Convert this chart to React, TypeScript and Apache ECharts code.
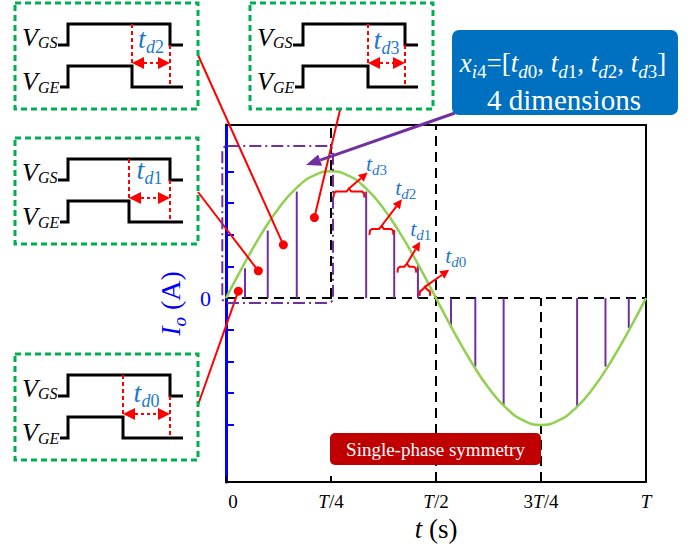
import React, { useEffect, useRef } from 'react';
import * as echarts from 'echarts';

const FONT = 'Liberation Serif, Times New Roman, serif';
const T_BLUE = '#1f78c8';
const RED = '#ff0000';
const PURPLE = '#7030a0';
const AXIS_BLUE = '#0000ff';

// ---------- data ----------
const yMin = -5.8;
const yMax = 5.46;

const xTickValues = [0, 0.25, 0.5, 0.75, 1];
const xTickLabels = ['0', 'T/4', 'T/2', '3T/4', 'T'];
const yTickValues = [-4, -3, -2, -1, 1, 2, 3, 4];
const yLabelValues = [0];

// output current Io over one period (t in units of T)
const curveT = [0, 0.0417, 0.0833, 0.125, 0.1667, 0.2083, 0.25, 0.2917, 0.3333, 0.375, 0.4167, 0.4583, 0.5,
  0.5417, 0.5833, 0.625, 0.6667, 0.7083, 0.75, 0.7917, 0.8333, 0.875, 0.9167, 0.9583, 1];
const curveI = [0, 1.04, 2.0, 2.83, 3.46, 3.86, 4.0, 3.86, 3.46, 2.83, 2.0, 1.04, 0,
  -1.04, -2.0, -2.83, -3.46, -3.86, -4.0, -3.86, -3.46, -2.83, -2.0, -1.04, 0];

// switching instants (purple stems)
const stemT = [0.0453, 0.0994, 0.1685, 0.3337, 0.4005, 0.457, 0.5357, 0.5936, 0.661, 0.836, 0.9035, 0.959];
const stemI = [0.94, 2.13, 3.36, 3.36, 2.15, 1.07, -0.94, -2.16, -3.4, -3.4, -2.16, -0.94];

// dead-time braces
const braceStart = [0.2558, 0.3416, 0.4083, 0.4608];
const braceEnd = [0.3297, 0.3988, 0.4529, 0.4863];
const braceLevel = [3.36, 2.18, 0.99, 0.26];
const braceIndex = ['3', '2', '1', '0'];

// callout dots
const dotT = [0.0293, 0.077, 0.1366, 0.2105];
const dotI = [0.22, 0.86, 1.68, 2.54];

// inset waveform boxes
const insetIndex = ['2', '3', '1', '0'];

// ---------- layout (pixels) ----------
const insetLeft = [15, 250, 15, 15];
const insetTop = [3, 3, 138, 354];
const insetFall = [117, 118, 114, 108];
const insetLabelY = [35.5, 36.5, 31.5, 38];
const calloutAnchor = [[198, 405], [198, 192], [198, 55], [340, 110]];
const braceArrow = [[18.7, -16], [20.4, -26.7], [13.3, -22], [24.3, -17]];
const braceLabelOffset = [[-1.7, -8.7], [-6.7, -11.3], [-10, -13.7], [-4, -14]];

// ---------- helpers ----------
const mainTok = (size: number, italic: boolean, color: string, extra: any = {}) => ({
  fontSize: size, lineHeight: size, fontFamily: FONT, fontStyle: italic ? 'italic' : 'normal',
  fill: color, color, ...extra,
});
const subTok = (size: number, h: number, italic: boolean, color: string) => ({
  fontSize: size, height: h, lineHeight: h, verticalAlign: 'bottom', fontFamily: FONT,
  fontStyle: italic ? 'italic' : 'normal', fill: color, color,
});

function arrowHead(tx: number, ty: number, ux: number, uy: number, len: number, hw: number) {
  const bx = tx - ux * len;
  const by = ty - uy * len;
  return { base: [bx, by], pts: [[tx, ty], [bx - uy * hw, by + ux * hw], [bx + uy * hw, by - ux * hw]] };
}

function inset(i: number) {
  const fall = insetFall[i];
  const rich = {
    v: mainTok(26, true, '#000'),
    s: subTok(16, 15, true, '#000'),
    t: mainTok(28, true, T_BLUE),
    d: subTok(18, 11, true, T_BLUE),
    n: subTok(18, 11, false, T_BLUE),
  };
  const lh = arrowHead(fall, 60, -1, 0, 12, 6);
  const rh = arrowHead(155, 60, 1, 0, 12, 6);
  return {
    type: 'group', x: insetLeft[i], y: insetTop[i], z: 50,
    children: [
      { type: 'rect', z: 50, shape: { x: 0, y: 0, width: 183, height: 106 },
        style: { fill: 'none', stroke: '#00b050', lineWidth: 3, lineDash: [6, 4] } },
      { type: 'polyline', z: 50, shape: { points: [[43, 42], [53, 42], [53, 21], [155, 21], [155, 42], [168, 42]] },
        style: { stroke: '#000', lineWidth: 3, fill: 'none', lineJoin: 'miter' } },
      { type: 'polyline', z: 50, shape: { points: [[45, 84], [53, 84], [53, 63], [fall, 63], [fall, 84], [168, 84]] },
        style: { stroke: '#000', lineWidth: 3, fill: 'none', lineJoin: 'miter' } },
      { type: 'line', z: 51, shape: { x1: fall, y1: 21, x2: fall, y2: 63 },
        style: { stroke: RED, lineWidth: 2, lineDash: [4, 3] } },
      { type: 'line', z: 51, shape: { x1: 155, y1: 42, x2: 155, y2: 84 },
        style: { stroke: RED, lineWidth: 2, lineDash: [4, 3] } },
      { type: 'line', z: 51, shape: { x1: lh.base[0], y1: 60, x2: rh.base[0], y2: 60 },
        style: { stroke: RED, lineWidth: 2, lineDash: [3, 3] } },
      { type: 'polygon', z: 51, shape: { points: lh.pts }, style: { fill: RED } },
      { type: 'polygon', z: 51, shape: { points: rh.pts }, style: { fill: RED } },
      { type: 'text', z: 52, x: 7, y: 34,
        style: { text: '{v|V}{s|GS}', rich, align: 'left', verticalAlign: 'middle' } },
      { type: 'text', z: 52, x: 7, y: 78.5,
        style: { text: '{v|V}{s|GE}', rich, align: 'left', verticalAlign: 'middle' } },
      { type: 'text', z: 52, x: (fall + 155) / 2, y: insetLabelY[i],
        style: { text: `{t|t}{d|d}{n|${insetIndex[i]}}`, rich, align: 'center', verticalAlign: 'middle' } },
    ],
  };
}

function xLabel(v: number) {
  const idx = xTickValues.findIndex((t) => Math.abs(t - v) < 1e-6);
  if (idx < 0) return '';
  const s = xTickLabels[idx];
  if (s === '0') return '{z|0}';
  let out = '';
  for (const ch of s) out += ch === 'T' ? '{i|T}' : `{n|${ch}}`;
  return out;
}

export default function App() {
  const ref = useRef<HTMLDivElement>(null);
  useEffect(() => {
    document.body.style.margin = '0';
    const chart = echarts.init(ref.current!, null, { renderer: 'svg' });

    // purple arrow from info box
    const ax0 = 455, ay0 = 113, ax1 = 306, ay1 = 165;
    const alen = Math.hypot(ax1 - ax0, ay1 - ay0);
    const pa = arrowHead(ax1, ay1, (ax1 - ax0) / alen, (ay1 - ay0) / alen, 15, 6);

    const boxRich = {
      a: mainTok(27, true, '#fff'),
      si: subTok(19, 11, true, '#fff'),
      sn: subTok(19, 11, false, '#fff'),
      b: mainTok(27, false, '#fff'),
    };
    const line1 = '{a|x}{si|i}{sn|4}{b|=[}' +
      ['0', '1', '2', '3'].map((k) => `{a|t}{si|d}{sn|${k}}`).join('{b|, }') + '{b|]}';

    const option: any = {
      animation: false,
      backgroundColor: '#fff',
      textStyle: { fontFamily: FONT },
      grid: { left: 226, right: 44, top: 125, bottom: 66, containLabel: false, outerBoundsMode: 'none' },
      xAxis: [
        {
          type: 'value', min: 0, max: 1, interval: 0.25, position: 'bottom',
          axisLine: { show: true, onZero: false, lineStyle: { color: '#000', width: 2 } },
          axisTick: { show: true, inside: true, length: 6, lineStyle: { color: '#000', width: 2 } },
          splitLine: { show: false },
          axisLabel: {
            margin: 10, formatter: xLabel,
            rich: {
              n: { fontSize: 19, fontFamily: FONT, color: '#000' },
              i: { fontSize: 19, fontFamily: FONT, fontStyle: 'italic', color: '#000' },
              z: { fontSize: 19, fontFamily: FONT, color: '#000', padding: [0, 0, 0, 14] },
            },
          },
          name: '{i|t}{n| (s)}', nameLocation: 'middle', nameGap: 33,
          nameTextStyle: {
            rich: {
              i: { fontSize: 27, fontFamily: FONT, fontStyle: 'italic', color: '#000' },
              n: { fontSize: 27, fontFamily: FONT, color: '#000' },
            },
          },
        },
        {
          type: 'value', min: 0, max: 1, position: 'top',
          axisLine: { show: true, onZero: false, lineStyle: { color: '#000', width: 2 } },
          axisTick: { show: false }, axisLabel: { show: false }, splitLine: { show: false },
        },
      ],
      yAxis: [
        {
          type: 'value', min: yMin, max: yMax, position: 'left',
          axisLine: { show: true, onZero: false, lineStyle: { color: AXIS_BLUE, width: 3 } },
          axisTick: { show: true, inside: true, length: 8, customValues: yTickValues,
            lineStyle: { color: AXIS_BLUE, width: 2 } },
          axisLabel: { show: true, customValues: yLabelValues, color: AXIS_BLUE, fontSize: 22,
            fontFamily: FONT, margin: 15 },
          splitLine: { show: false },
          name: '{i|I}{s|o}{n| (A)}', nameLocation: 'middle', nameRotate: 90, nameGap: 36,
          nameTextStyle: {
            rich: {
              i: mainTok(28, true, AXIS_BLUE),
              s: subTok(19, 10, true, AXIS_BLUE),
              n: mainTok(28, false, AXIS_BLUE),
            },
          },
        },
        {
          type: 'value', min: yMin, max: yMax, position: 'right',
          axisLine: { show: true, onZero: false, lineStyle: { color: '#000', width: 2 } },
          axisTick: { show: false }, axisLabel: { show: false }, splitLine: { show: false },
        },
      ],
      series: [
        {
          type: 'line', name: 'Io', smooth: true, showSymbol: false, symbol: 'none', z: 3,
          data: curveT.map((t, i) => [t, curveI[i]]),
          lineStyle: { color: '#92d050', width: 2.5 },
          markLine: {
            silent: true, symbol: 'none', label: { show: false }, z: 2,
            lineStyle: { color: '#000', type: [10, 6], width: 2 },
            data: [
              { yAxis: 0 },
              [{ coord: [0.25, 0] }, { coord: [0.25, yMax] }],
              [{ coord: [0.5, yMin] }, { coord: [0.5, yMax] }],
              [{ coord: [0.75, yMin] }, { coord: [0.75, 0] }],
            ],
          },
        },
        {
          type: 'custom', name: 'stems', z: 2, clip: false,
          data: stemT.map((t, i) => [t, stemI[i]]),
          encode: { x: 0, y: 1 },
          renderItem: (params: any, api: any) => {
            const p0 = api.coord([api.value(0), 0]);
            const p1 = api.coord([api.value(0), api.value(1)]);
            return { type: 'line', shape: { x1: p0[0], y1: p0[1], x2: p1[0], y2: p1[1] },
              style: { stroke: PURPLE, lineWidth: 2 } };
          },
        },
        {
          type: 'custom', name: 'braces', z: 6, clip: false,
          data: braceStart.map((s, i) => [s, braceEnd[i], braceLevel[i]]),
          encode: { x: [0, 1], y: 2 },
          renderItem: (params: any, api: any) => {
            const i = params.dataIndex;
            const a = api.coord([api.value(0), api.value(2)]);
            const b = api.coord([api.value(1), api.value(2)]);
            const y = a[1];
            const mid = (a[0] + b[0]) / 2;
            const sx = mid, sy = y - 3;
            const d = braceArrow[i];
            const tx = sx + d[0], ty = sy + d[1];
            const len = Math.hypot(d[0], d[1]);
            const h = arrowHead(tx, ty, d[0] / len, d[1] / len, 9, 4.5);
            const off = braceLabelOffset[i];
            return {
              type: 'group',
              children: [
                { type: 'polyline', shape: { points: [
                  [a[0], y + 6], [a[0] + 0.5, y + 1.5], [a[0] + 2.5, y], [mid - 2.5, y], [mid, sy],
                  [mid + 2.5, y], [b[0] - 2.5, y], [b[0] - 0.5, y + 1.5], [b[0], y + 6]] },
                  style: { stroke: RED, lineWidth: 2, fill: 'none' } },
                { type: 'line', shape: { x1: sx, y1: sy, x2: h.base[0], y2: h.base[1] },
                  style: { stroke: RED, lineWidth: 2 } },
                { type: 'polygon', shape: { points: h.pts }, style: { fill: RED } },
                { type: 'text', x: tx + off[0], y: ty + off[1],
                  style: {
                    text: `{t|t}{d|d}{n|${braceIndex[i]}}`, align: 'left', verticalAlign: 'middle',
                    rich: {
                      t: mainTok(22, true, T_BLUE),
                      d: subTok(15, 9, true, T_BLUE),
                      n: subTok(15, 9, false, T_BLUE),
                    },
                  } },
              ],
            };
          },
        },
        {
          type: 'custom', name: 'callouts', z: 10, clip: false,
          data: dotT.map((t, i) => [t, dotI[i]]),
          encode: { x: 0, y: 1 },
          renderItem: (params: any, api: any) => {
            const i = params.dataIndex;
            const p = api.coord([api.value(0), api.value(1)]);
            const an = calloutAnchor[i];
            return {
              type: 'group',
              children: [
                { type: 'line', shape: { x1: an[0], y1: an[1], x2: p[0], y2: p[1] },
                  style: { stroke: RED, lineWidth: 2 } },
                { type: 'circle', shape: { cx: p[0], cy: p[1], r: 4.5 }, style: { fill: RED } },
              ],
            };
          },
        },
      ],
      graphic: [
        ...[0, 1, 2, 3].map((i) => inset(i)),
        { type: 'rect', z: 40, shape: { x: 222.3, y: 146, width: 110.7, height: 157, r: 5 },
          style: { fill: 'none', stroke: PURPLE, lineWidth: 2, lineDash: [12, 4, 2, 4] } },
        { type: 'line', z: 55, shape: { x1: ax0, y1: ay0, x2: pa.base[0], y2: pa.base[1] },
          style: { stroke: PURPLE, lineWidth: 3 } },
        { type: 'polygon', z: 55, shape: { points: pa.pts }, style: { fill: PURPLE } },
        { type: 'rect', z: 60, shape: { x: 452, y: 30, width: 226, height: 85, r: 7 },
          style: { fill: '#0070c0' } },
        { type: 'text', z: 61, x: 563, y: 63,
          style: { text: line1, rich: boxRich, align: 'center', verticalAlign: 'middle' } },
        { type: 'text', z: 61, x: 564, y: 100,
          style: { text: '4 dimensions', fontSize: 29, fontFamily: FONT, fill: '#fff',
            align: 'center', verticalAlign: 'middle' } },
        { type: 'rect', z: 60, shape: { x: 330, y: 433, width: 211, height: 32, r: 5 },
          style: { fill: '#c00000' } },
        { type: 'text', z: 61, x: 435.5, y: 449,
          style: { text: 'Single-phase symmetry', fontSize: 19, fontFamily: FONT, fill: '#fff',
            align: 'center', verticalAlign: 'middle' } },
      ],
    };

    chart.setOption(option);
    return () => chart.dispose();
  }, []);
  return (
    <div
      ref={ref}
      style={{ position: 'absolute', left: 0, top: 0, width: 690, height: 548, background: '#fff' }}
    />
  );
}
